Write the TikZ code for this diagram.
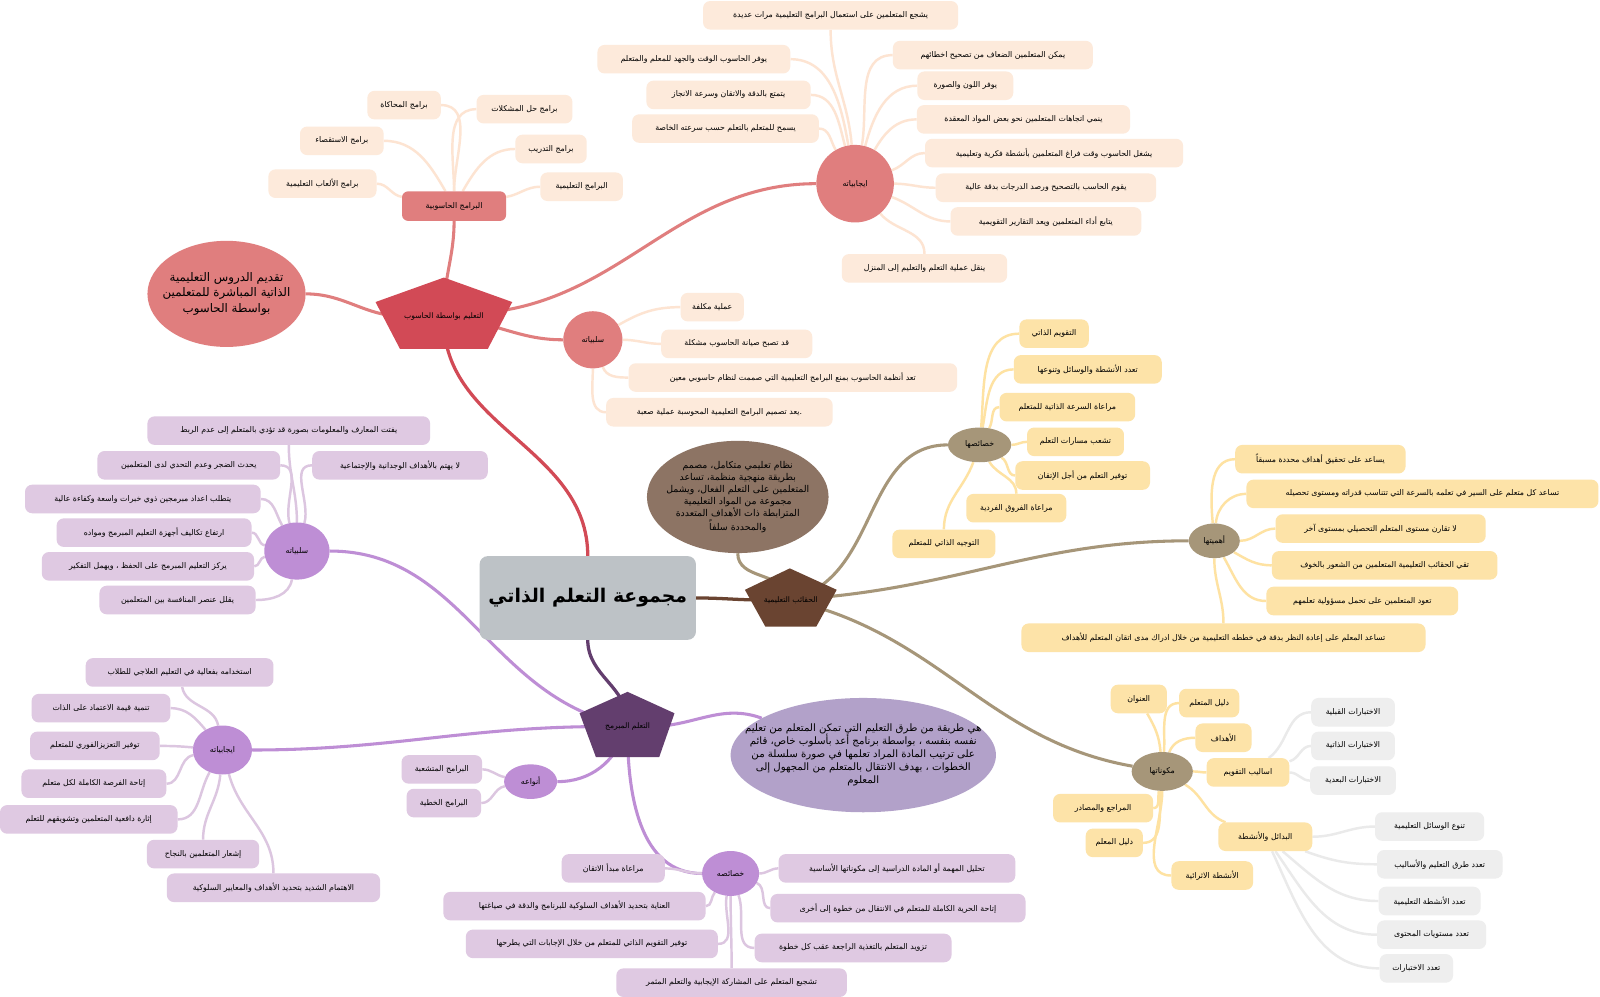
\documentclass[tikz,border=0pt]{standalone}
\usepackage{fontspec}
\usetikzlibrary{shapes.geometric}
\TeXXeTstate=1
\newfontfamily\ar[Script=Arabic]{DejaVu Sans}
\newcommand\rtltxt[1]{\beginR#1\endR}
\definecolor{redM}{HTML}{D24A56}
\definecolor{redL}{HTML}{E07E7E}
\definecolor{peach}{HTML}{FDEADB}
\definecolor{peachL}{HTML}{FDE4D2}
\definecolor{brD}{HTML}{6A4431}
\definecolor{brE}{HTML}{8D7464}
\definecolor{tanC}{HTML}{A69679}
\definecolor{yel}{HTML}{FDE3A8}
\definecolor{yelL}{HTML}{FEE2A2}
\definecolor{gry}{HTML}{EEEEEE}
\definecolor{gryL}{HTML}{EAEAEA}
\definecolor{puD}{HTML}{633E6E}
\definecolor{puE}{HTML}{B2A1C9}
\definecolor{puM}{HTML}{BE8ED5}
\definecolor{puL}{HTML}{DFC9E2}
\definecolor{puLL}{HTML}{DCC6E0}
\definecolor{cgray}{HTML}{BDC2C6}
\pgfdeclarelayer{bg}
\pgfsetlayers{bg,main}
\tikzset{
  lf/.style={rounded corners=7, minimum height=28, inner sep=2, font=\ar\fontsize{7.7}{9}\selectfont, text=black},
  lfR/.style={lf, fill=peach},
  lfY/.style={lf, fill=yel},
  lfG/.style={lf, fill=gry},
  lfP/.style={lf, fill=puL},
  elnode/.style={ellipse, inner sep=0, font=\ar\fontsize{7.7}{9}\selectfont, text=black},
  pentxt/.style={inner sep=0, font=\ar\fontsize{7.5}{9}\selectfont, text=black},
  bigel/.style={ellipse, align=center, text=black},
  lnR/.style={line width=3, color=redL},
  lnT/.style={line width=3, color=tanC},
  lnP/.style={line width=3, color=puM},
  lkR/.style={line width=2.4, color=peachL},
  lkY/.style={line width=2.4, color=yelL},
  lkG/.style={line width=2.4, color=gryL},
  lkP/.style={line width=2.4, color=puLL},
}
\begin{document}
\begin{tikzpicture}[x=1pt,y=-1pt]
\useasboundingbox (0,0) rectangle (1568,977);
\begin{pgfonlayer}{bg}
\fill[white] (0,0) rectangle (1568,977);
\end{pgfonlayer}

% ---------- central ----------
\node[fill=cgray, rounded corners=8, minimum width=212, minimum height=82, inner sep=0, font=\ar\bfseries\fontsize{18.5}{22}\selectfont] (C) at (576,586) {\rtltxt{مجموعة التعلم الذاتي}};

% ---------- red branch ----------
\fill[redM] (435,272) -- (502,296) -- (478,342) -- (392,342) -- (368,296) -- cycle;
\node[pentxt] (P1) at (435,310) {\rtltxt{التعليم بواسطة الحاسوب}};
\node[bigel, fill=redL, inner xsep=-16, inner ysep=-8, minimum width=155, minimum height=104, font=\ar\fontsize{11.6}{15.5}\selectfont] (E1) at (222,288)
  {\rtltxt{تقديم الدروس التعليمية}\\\rtltxt{الذاتية المباشرة للمتعلمين}\\\rtltxt{بواسطة الحاسوب}};
\node[lf, fill=redL, rounded corners=6, minimum width=102, minimum height=29] (B) at (445,202) {\rtltxt{البرامج الحاسوبية}};
\node[elnode, fill=redL, minimum width=76, minimum height=76] (A1) at (838,180) {\rtltxt{ايجابياته}};
\node[elnode, fill=redL, minimum width=58, minimum height=56] (S1) at (581,333) {\rtltxt{سلبياته}};

\node[lfR, minimum width=250] (r1) at (814,15) {\rtltxt{يشجع المتعلمين على استعمال البرامج التعليمية مرات عديدة}};
\node[lfR, minimum width=189] (r2) at (680,58) {\rtltxt{يوفر الحاسوب الوقت والجهد للمعلم والمتعلم}};
\node[lfR, minimum width=196] (r3) at (973,54) {\rtltxt{يمكن المتعلمين الضعاف من تصحيح اخطائهم}};
\node[lfR, minimum width=94] (r4) at (946,84) {\rtltxt{يوفر اللون والصورة}};
\node[lfR, minimum width=161] (r5) at (714,93) {\rtltxt{يتمتع بالدقة والاتقان وسرعة الانجاز}};
\node[lfR, minimum width=209] (r6) at (1003,117) {\rtltxt{ينمي اتجاهات المتعلمين نحو بعض المواد المعقدة}};
\node[lfR, minimum width=183] (r7) at (711,126) {\rtltxt{يسمح للمتعلم بالتعلم حسب سرعته الخاصة}};
\node[lfR, minimum width=253] (r8) at (1033,150) {\rtltxt{يشغل الحاسوب وقت فراغ المتعلمين بأنشطة فكرية وتعليمية}};
\node[lfR, minimum width=216] (r9) at (1025,184) {\rtltxt{يقوم الحاسب بالتصحيح ورصد الدرجات بدقة عالية}};
\node[lfR, minimum width=187] (r10) at (1025,217) {\rtltxt{يتابع أداء المتعلمين ويعد التقارير التقويمية}};
\node[lfR, minimum width=162] (r11) at (906,263) {\rtltxt{ينقل عملية التعلم والتعليم إلى المنزل}};

\node[lfR, minimum width=62] (s1) at (698,301) {\rtltxt{عملية مكلفة}};
\node[lfR, minimum width=148] (s2) at (722,337) {\rtltxt{قد تصبح صيانة الحاسوب مشكلة}};
\node[lfR, minimum width=322] (s3) at (777,370) {\rtltxt{تعد أنظمة الحاسوب بمنع البرامج التعليمية التي صممت لنظام حاسوبي معين}};
\node[lfR, minimum width=222] (s4) at (705,404) {\rtltxt{.يعد تصميم البرامج التعليمية المحوسبة عملية صعبة}};

\node[lfR, minimum width=72] (b1) at (396,103) {\rtltxt{برامج المحاكاة}};
\node[lfR, minimum width=94] (b2) at (514,107) {\rtltxt{برامج حل المشكلات}};
\node[lfR, minimum width=82] (b3) at (335,138) {\rtltxt{برامج الاستقصاء}};
\node[lfR, minimum width=70] (b4) at (540,146) {\rtltxt{برامج التدريب}};
\node[lfR, minimum width=106] (b5) at (316,180) {\rtltxt{برامج الألعاب التعليمية}};
\node[lfR, minimum width=81] (b6) at (570,183) {\rtltxt{البرامج التعليمية}};

% ---------- brown branch ----------
\fill[brD] (774,557) -- (820,578) -- (800,614) -- (750,614) -- (730,578) -- cycle;
\node[pentxt] (P2) at (775,588) {\rtltxt{الحقائب التعليمية}};
\node[bigel, fill=brE, inner xsep=-12, inner ysep=-6, minimum width=178, minimum height=110, font=\ar\fontsize{9.2}{11.8}\selectfont] (E2) at (723,487)
  {\rtltxt{نظام تعليمي متكامل، مصمم}\\\rtltxt{بطريقة منهجية منظمة، تساعد}\\\rtltxt{المتعلمين على التعلم الفعال، ويشمل}\\\rtltxt{مجموعة من المواد التعليمية}\\\rtltxt{المترابطة ذات الأهداف المتعددة}\\\rtltxt{والمحددة سلفاً}};
\node[elnode, fill=tanC, minimum width=62, minimum height=34] (K) at (960,436) {\rtltxt{خصائصها}};
\node[elnode, fill=tanC, minimum width=50, minimum height=34] (H) at (1190,530) {\rtltxt{أهميتها}};
\node[elnode, fill=tanC, minimum width=60, minimum height=38] (M) at (1139,756) {\rtltxt{مكوناتها}};

\node[lfY, minimum width=68] (k1) at (1033,327) {\rtltxt{التقويم الذاتي}};
\node[lfY, minimum width=145] (k2) at (1066,362) {\rtltxt{تعدد الأنشطة والوسائل وتنوعها}};
\node[lfY, minimum width=133] (k3) at (1046,399) {\rtltxt{مراعاة السرعة الذاتية للمتعلم}};
\node[lfY, minimum width=95] (k4) at (1054,433) {\rtltxt{تشعب مسارات التعلم}};
\node[lfY, minimum width=132] (k5) at (1061,466) {\rtltxt{توفير التعلم من أجل الإتقان}};
\node[lfY, minimum width=98] (k6) at (996,498) {\rtltxt{مراعاة الفروق الفردية}};
\node[lfY, minimum width=101] (k7) at (925,533) {\rtltxt{التوجيه الذاتي للمتعلم}};

\node[lfY, minimum width=167] (h1) at (1294,450) {\rtltxt{يساعد على تحقيق أهداف محددة مسبقاً}};
\node[lfY, minimum width=345] (h2) at (1394,484) {\rtltxt{تساعد كل متعلم على السير في تعلمه بالسرعة التي تتناسب قدراته ومستوى تحصيله}};
\node[lfY, minimum width=206] (h3) at (1353,518) {\rtltxt{لا تقارن مستوى المتعلم التحصيلي بمستوى آخر}};
\node[lfY, minimum width=221] (h4) at (1357,554) {\rtltxt{تقي الحقائب التعليمية المتعلمين من الشعور بالخوف}};
\node[lfY, minimum width=188] (h5) at (1335,589) {\rtltxt{تعود المتعلمين على تحمل مسؤولية تعلمهم}};
\node[lfY, minimum width=396] (h6) at (1199,625) {\rtltxt{تساعد المعلم على إعادة النظر بدقة في خططه التعليمية من خلال ادراك مدى اتقان المتعلم للأهداف}};

\node[lfY, minimum width=55] (m1) at (1116,685) {\rtltxt{العنوان}};
\node[lfY, minimum width=59] (m2) at (1185,689) {\rtltxt{دليل المتعلم}};
\node[lfY, minimum width=55] (m3) at (1199,723) {\rtltxt{الأهداف}};
\node[lfY, minimum width=81] (m4) at (1223,757) {\rtltxt{اساليب التقويم}};
\node[lfY, minimum width=98] (m5) at (1081,792) {\rtltxt{المراجع والمصادر}};
\node[lfY, minimum width=56] (m6) at (1092,826) {\rtltxt{دليل المعلم}};
\node[lfY, minimum width=92] (m7) at (1240,820) {\rtltxt{البدائل والأنشطة}};
\node[lfY, minimum width=80] (m8) at (1188,858) {\rtltxt{الأنشطة الاثرائية}};

\node[lfG, minimum width=82] (g1) at (1326,698) {\rtltxt{الاختبارات القبلية}};
\node[lfG, minimum width=82] (g2) at (1326,731) {\rtltxt{الاختبارات الذاتية}};
\node[lfG, minimum width=84] (g3) at (1326,765) {\rtltxt{الاختبارات البعدية}};
\node[lfG, minimum width=107] (g4) at (1401,810) {\rtltxt{تنوع الوسائل التعليمية}};
\node[lfG, minimum width=123] (g5) at (1411,847) {\rtltxt{تعدد طرق التعليم والأساليب}};
\node[lfG, minimum width=100] (g6) at (1401,883) {\rtltxt{تعدد الأنشطة التعليمية}};
\node[lfG, minimum width=107] (g7) at (1403,916) {\rtltxt{تعدد مستويات المحتوى}};
\node[lfG, minimum width=72] (g8) at (1388,949) {\rtltxt{تعدد الاختبارات}};

% ---------- purple branch ----------
\fill[puD] (615,678) -- (661,699) -- (646,742) -- (584,742) -- (568,699) -- cycle;
\node[pentxt] (P3) at (615,712) {\rtltxt{التعلم المبرمج}};
\node[bigel, fill=puE, inner xsep=-28, inner ysep=-6, minimum width=260, minimum height=112, font=\ar\fontsize{10}{12.8}\selectfont] (E3) at (846,740)
  {\rtltxt{هي طريقة من طرق التعليم التي تمكن المتعلم من تعليم}\\\rtltxt{نفسه بنفسه ، بواسطة برنامج أعد بأسلوب خاص، قائم}\\\rtltxt{على ترتيب المادة المراد تعلمها في صورة سلسلة من}\\\rtltxt{الخطوات ، بهدف الانتقال بالمتعلم من المجهول إلى}\\\rtltxt{المعلوم}};
\node[elnode, fill=puM, minimum width=64, minimum height=56] (S2) at (291,540) {\rtltxt{سلبياته}};
\node[elnode, fill=puM, minimum width=58, minimum height=48] (A3) at (218,735) {\rtltxt{ايجابياته}};
\node[elnode, fill=puM, minimum width=52, minimum height=34] (N) at (520,766) {\rtltxt{أنواعه}};
\node[elnode, fill=puM, minimum width=56, minimum height=44] (F) at (716,856) {\rtltxt{خصائصه}};

\node[lfP, minimum width=277] (p1) at (283,422) {\rtltxt{يفتت المعارف والمعلومات بصورة قد تؤدي بالمتعلم إلى عدم الربط}};
\node[lfP, minimum width=179] (p2) at (185,456) {\rtltxt{يحدث الضجر وعدم التحدي لدى المتعلمين}};
\node[lfP, minimum width=172] (p3) at (392,456) {\rtltxt{لا يهتم بالأهداف الوجدانية والإجتماعية}};
\node[lfP, minimum width=231] (p4) at (140,489) {\rtltxt{يتطلب اعداد مبرمجين ذوي خبرات واسعة وكفاءة عالية}};
\node[lfP, minimum width=191] (p5) at (151,522) {\rtltxt{ارتفاع تكاليف أجهزة التعليم المبرمج ومواده}};
\node[lfP, minimum width=208] (p6) at (145,555) {\rtltxt{يركز التعليم المبرمج على الحفظ ، ويهمل التفكير}};
\node[lfP, minimum width=153] (p7) at (174,588) {\rtltxt{يقلل عنصر المنافسة بين المتعلمين}};

\node[lfP, minimum width=184] (q1) at (176,659) {\rtltxt{استخدامه بفعالية في التعليم العلاجي للطلاب}};
\node[lfP, minimum width=136] (q2) at (99,694) {\rtltxt{تنمية قيمة الاعتماد على الذات}};
\node[lfP, minimum width=127] (q3) at (93,731) {\rtltxt{توفير التعزيزالفوري للمتعلم}};
\node[lfP, minimum width=142] (q4) at (92,768) {\rtltxt{إتاحة الفرصة الكاملة لكل متعلم}};
\node[lfP, minimum width=174] (q5) at (87,803) {\rtltxt{إثارة دافعية المتعلمين وتشويقهم للتعلم}};
\node[lfP, minimum width=110] (q6) at (199,837) {\rtltxt{إشعار المتعلمين بالنجاح}};
\node[lfP, minimum width=209] (q7) at (268,870) {\rtltxt{الاهتمام الشديد بتحديد الأهداف والمعايير السلوكية}};

\node[lfP, minimum width=79] (n1) at (433,754) {\rtltxt{البرامج المتشعبة}};
\node[lfP, minimum width=73] (n2) at (435,787) {\rtltxt{البرامج الخطية}};

\node[lfP, minimum width=101] (f1) at (601,851) {\rtltxt{مراعاة مبدأ الاتقان}};
\node[lfP, minimum width=232] (f2) at (879,851) {\rtltxt{تحليل المهمة أو المادة الدراسية إلى مكوناتها الأساسية}};
\node[lfP, minimum width=257] (f3) at (563,888) {\rtltxt{العناية بتحديد الأهداف السلوكية للبرنامج والدقة في صياغتها}};
\node[lfP, minimum width=250] (f4) at (880,890) {\rtltxt{إتاحة الحرية الكاملة للمتعلم في الانتقال من خطوة إلى أخرى}};
\node[lfP, minimum width=247] (f5) at (580,925) {\rtltxt{توفير التقويم الذاتي للمتعلم من خلال الإجابات التي يطرحها}};
\node[lfP, minimum width=193] (f6) at (836,929) {\rtltxt{تزويد المتعلم بالتغذية الراجعة عقب كل خطوة}};
\node[lfP, minimum width=226] (f7) at (717,963) {\rtltxt{تشجيع المتعلم على المشاركة الإيجابية والتعلم المثمر}};

% ---------- connectors ----------
\begin{pgfonlayer}{bg}
\draw[line width=3.2, redM] (C) to[out=90,in=-90] (P1);
\draw[line width=3.2, brD] (C) to[out=0,in=180] (P2);
\draw[line width=3.2, puD] (C) to[out=-90,in=90] (P3);

\draw[lnR] (P1) to[out=180,in=0] (E1);
\draw[lnR] (P1) to[out=90,in=-90] (B);
\draw[lnR] (P1) to[out=5,in=180] (A1);
\draw[lnR] (P1) to[out=-10,in=180] (S1);

\draw[lkR] (A1) to[out=95,in=-90] (r1);
\draw[lkR] (A1) to[out=100,in=0] (r2);
\draw[lkR] (A1) to[out=105,in=0] (r5);
\draw[lkR] (A1) to[out=120,in=0] (r7);
\draw[lkR] (A1) to[out=80,in=180] (r3);
\draw[lkR] (A1) to[out=75,in=180] (r4);
\draw[lkR] (A1) to[out=60,in=180] (r6);
\draw[lkR] (A1) to[out=20,in=180] (r8);
\draw[lkR] (A1) to[out=0,in=180] (r9);
\draw[lkR] (A1) to[out=-20,in=180] (r10);
\draw[lkR] (A1) to[out=-50,in=90] (r11);

\draw[lkR] (S1) to[out=30,in=180] (s1);
\draw[lkR] (S1) to[out=0,in=180] (s2);
\draw[lkR] (S1) to[out=-70,in=180] (s3);
\draw[lkR] (S1) to[out=-90,in=180] (s4);

\draw[lkR] (B) to[out=90,in=0] (b1);
\draw[lkR] (B) to[out=90,in=180] (b2);
\draw[lkR] (B) to[out=120,in=0] (b3);
\draw[lkR] (B) to[out=60,in=180] (b4);
\draw[lkR] (B) to[out=170,in=0] (b5);
\draw[lkR] (B) to[out=10,in=180] (b6);

\draw[lnT] (P2) to[out=110,in=-90] (E2);
\draw[lnT] (P2) to[out=20,in=180] (K);
\draw[lnT] (P2) to[out=5,in=180] (H);
\draw[lnT] (P2) to[out=-15,in=170] (M);

\draw[lkY] (K) to[out=85,in=180] (k1);
\draw[lkY] (K) to[out=80,in=180] (k2);
\draw[lkY] (K) to[out=60,in=180] (k3);
\draw[lkY] (K) to[out=0,in=180] (k4);
\draw[lkY] (K) to[out=-30,in=180] (k5);
\draw[lkY] (K) to[out=-60,in=90] (k6);
\draw[lkY] (K) to[out=-110,in=90] (k7);

\draw[lkY] (H) to[out=95,in=180] (h1);
\draw[lkY] (H) to[out=85,in=180] (h2);
\draw[lkY] (H) to[out=0,in=180] (h3);
\draw[lkY] (H) to[out=-30,in=180] (h4);
\draw[lkY] (H) to[out=-60,in=180] (h5);
\draw[lkY] (H) to[out=-90,in=90] (h6);

\draw[lkY] (M) to[out=95,in=-60] (m1);
\draw[lkY] (M) to[out=85,in=180] (m2);
\draw[lkY] (M) to[out=70,in=180] (m3);
\draw[lkY] (M) to[out=0,in=180] (m4);
\draw[lkY] (M) to[out=-100,in=0] (m5);
\draw[lkY] (M) to[out=-95,in=0] (m6);
\draw[lkY] (M) to[out=-30,in=160] (m7);
\draw[lkY] (M) to[out=-90,in=180] (m8);

\draw[lkG] (m4) to[out=35,in=180] (g1);
\draw[lkG] (m4) to[out=15,in=180] (g2);
\draw[lkG] (m4) to[out=0,in=180] (g3);
\draw[lkG] (m7) to[out=0,in=180] (g4);
\draw[lkG] (m7) to[out=-20,in=180] (g5);
\draw[lkG] (m7) to[out=-40,in=180] (g6);
\draw[lkG] (m7) to[out=-55,in=180] (g7);
\draw[lkG] (m7) to[out=-65,in=180] (g8);

\draw[lnP] (P3) to[out=0,in=160] (E3);
\draw[lnP] (P3) to[out=165,in=0] (S2);
\draw[lnP] (P3) to[out=180,in=0] (A3);
\draw[lnP] (P3) to[out=-110,in=0] (N);
\draw[lnP] (P3) to[out=-90,in=180] (F);

\draw[lkP] (S2) to[out=90,in=-90] (p1);
\draw[lkP] (S2) to[out=105,in=0] (p2);
\draw[lkP] (S2) to[out=75,in=180] (p3);
\draw[lkP] (S2) to[out=120,in=0] (p4);
\draw[lkP] (S2) to[out=170,in=0] (p5);
\draw[lkP] (S2) to[out=190,in=0] (p6);
\draw[lkP] (S2) to[out=-100,in=0] (p7);

\draw[lkP] (A3) to[out=100,in=-80] (q1);
\draw[lkP] (A3) to[out=130,in=0] (q2);
\draw[lkP] (A3) to[out=175,in=0] (q3);
\draw[lkP] (A3) to[out=190,in=0] (q4);
\draw[lkP] (A3) to[out=-120,in=0] (q5);
\draw[lkP] (A3) to[out=-95,in=90] (q6);
\draw[lkP] (A3) to[out=-75,in=90] (q7);

\draw[lkP] (N) to[out=170,in=0] (n1);
\draw[lkP] (N) to[out=190,in=0] (n2);

\draw[lkP] (F) to[out=180,in=0] (f1);
\draw[lkP] (F) to[out=0,in=180] (f2);
\draw[lkP] (F) to[out=-130,in=0] (f3);
\draw[lkP] (F) to[out=-20,in=180] (f4);
\draw[lkP] (F) to[out=-100,in=0] (f5);
\draw[lkP] (F) to[out=-70,in=180] (f6);
\draw[lkP] (F) to[out=-90,in=90] (f7);
\end{pgfonlayer}
\end{tikzpicture}
\end{document}
